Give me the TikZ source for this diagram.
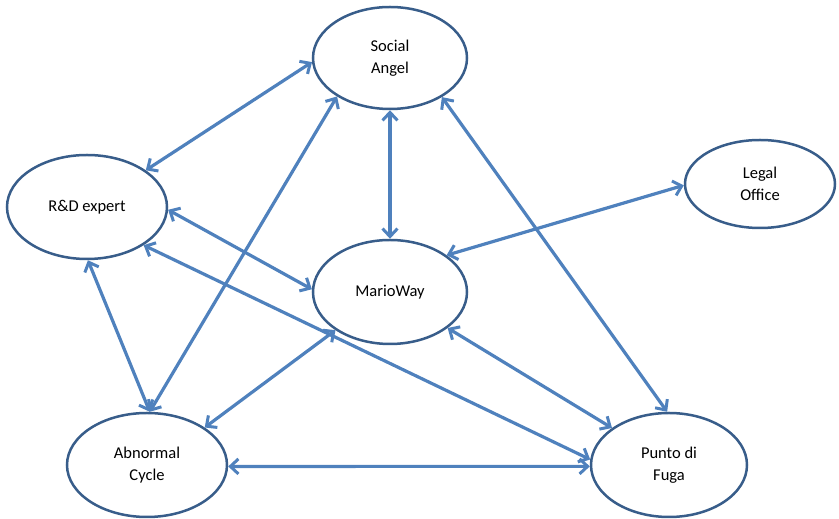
\documentclass[tikz,border=0pt]{standalone}
\usepackage{fontspec}
\setmainfont{Carlito}
\usetikzlibrary{shapes.geometric,arrows.meta}
\definecolor{rimblue}{RGB}{56,93,138}
\definecolor{linkblue}{RGB}{79,129,189}
\begin{document}
\begin{tikzpicture}[x=1pt, y=1pt,
    actor/.style = {ellipse, draw = rimblue, line width = 2.5pt, fill = white,
                    inner sep = 0pt, align = center,
                    font = \fontsize{16.5}{21.5}\selectfont},
    link/.style = {<->, draw = linkblue, line width = 3.2pt},
    >={Straight Barb[length=8pt, width=15pt, line width=3pt]}]
    \useasboundingbox (0, 0) rectangle (839, 519);
    % the six parties
    \node [actor, minimum width = 154, minimum height = 102] (social) at (390, 461) {Social\\Angel};
    \node [actor, minimum width = 160, minimum height = 104] (rnd) at (87, 312) {R\&D expert};
    \node [actor, minimum width = 150, minimum height = 88] (legal) at (760, 335) {Legal\\Office};
    \node [actor, minimum width = 154, minimum height = 104] (mario) at (390, 227) {MarioWay};
    \node [actor, minimum width = 160, minimum height = 104] (abnormal) at (147, 54) {Abnormal\\Cycle};
    \node [actor, minimum width = 156, minimum height = 104] (punto) at (669, 54) {Punto di\\Fuga};
    % relations
    \draw [link] (social.183) -- (rnd.32);
    \draw [link] (social.270) -- (mario.90);
    \draw [link] (social.216) -- (abnormal.87);
    \draw [link] (social.323) -- (punto.92);
    \draw [link] (rnd.-2) -- (mario.178);
    \draw [link] (rnd.-34) -- (punto.176);
    \draw [link] (rnd.-89) -- (abnormal.87);
    \draw [link] (legal.181) -- (mario.33);
    \draw [link] (mario.215) -- (abnormal.33);
    \draw [link] (mario.328) -- (punto.147);
    \draw [link] (abnormal.-1.5) -- (punto.181.5);
\end{tikzpicture}
\end{document}
